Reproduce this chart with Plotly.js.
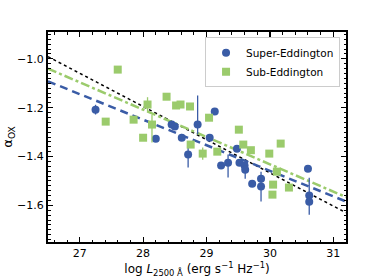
<!DOCTYPE html>
<html><head><meta charset="utf-8">
<script src="https://cdn.plot.ly/plotly-3.0.1.min.js"></script>
<style>html,body{margin:0;padding:0;background:#fff}#c{width:383px;height:278px}</style>
</head><body><div id="c"></div>
<script>
var superX = [27.25,28.20,28.45,28.50,28.61,28.71,28.86,29.13,29.05,29.23,29.34,29.48,29.52,29.60,29.61,29.72,29.86,29.86,30.60,30.62,30.62];
var superY = [-1.208,-1.327,-1.269,-1.277,-1.323,-1.392,-1.269,-1.216,-1.323,-1.437,-1.425,-1.368,-1.425,-1.437,-1.454,-1.511,-1.491,-1.523,-1.450,-1.560,-1.585];
var superErrUp = [0.02,0,0,0,0,0.053,0.119,0,0,0,0.033,0,0,0,0.02,0,0,0.061,0,0,0.098];
var superErrDn = [0.02,0,0,0,0,0.053,0.04,0,0,0,0.061,0,0,0,0.037,0,0,0.061,0,0,0.053];

var subX = [27.41,27.60,27.85,28.00,28.07,28.14,28.37,28.52,28.59,28.74,28.75,28.94,29.04,29.17,29.51,29.58,29.70,29.99,30.17,30.11,30.05,30.04,30.30];
var subY = [-1.257,-1.044,-1.249,-1.323,-1.187,-1.269,-1.155,-1.191,-1.187,-1.195,-1.351,-1.388,-1.241,-1.380,-1.290,-1.351,-1.374,-1.388,-1.347,-1.462,-1.515,-1.556,-1.527];
var subErrUp = [0,0,0,0,0.03,0.04,0,0,0,0,0,0.025,0,0,0,0,0,0,0,0,0,0,0];
var subErrDn = [0,0,0,0,0.03,0.074,0,0,0,0,0,0.025,0,0,0,0,0,0,0,0,0,0,0];

var fitX = [26.5, 31.2];
var allFitY = [-0.991, -1.630];
var subFitY = [-1.040, -1.566];
var superFitY = [-1.092, -1.584];

var blue = '#3a5ca6';
var green = '#9bcb6c';

var traces = [
  {x: fitX, y: allFitY, mode:'lines', line:{color:'black', width:1.5, dash:'dot'}, showlegend:false, hoverinfo:'skip'},
  {x: fitX, y: subFitY, mode:'lines', line:{color:green, width:2.5, dash:'dashdot'}, showlegend:false, hoverinfo:'skip'},
  {x: fitX, y: superFitY, mode:'lines', line:{color:blue, width:2.5, dash:'8px,5px'}, showlegend:false, hoverinfo:'skip'},
  {x: superX, y: superY, mode:'markers', name:'Super-Eddington', type:'scatter',
   marker:{color:blue, size:8, symbol:'circle'},
   error_y:{type:'data', symmetric:false, array:superErrUp, arrayminus:superErrDn, color:blue, thickness:1.3, width:0}},
  {x: subX, y: subY, mode:'markers', name:'Sub-Eddington', type:'scatter',
   marker:{color:green, size:8, symbol:'square'},
   error_y:{type:'data', symmetric:false, array:subErrUp, arrayminus:subErrDn, color:green, thickness:1.3, width:0}}
];

var axisCommon = {
  showgrid:false, zeroline:false, showline:true, linecolor:'black', linewidth:2,
  mirror:'ticks', ticks:'inside', ticklen:5, tickwidth:1.2, tickcolor:'black',
  tickfont:{family:'DejaVu Sans', size:11, color:'black'}
};

var layout = {
  width:383, height:278,
  margin:{l:48, r:37, t:32, b:36},
  paper_bgcolor:'white', plot_bgcolor:'white',
  font:{family:'DejaVu Sans', color:'black'},
  xaxis: Object.assign({}, axisCommon, {
    range:[26.5, 31.2], dtick:1, tick0:27,
    minor:{dtick:0.2, ticks:'inside', ticklen:2.5, tickcolor:'black', tickwidth:1},
    title:{text:'log <i>L</i><sub>2500 Å</sub> (erg s<sup>−1</sup> Hz<sup>−1</sup>)', font:{family:'DejaVu Sans', size:12}, standoff:4}
  }),
  yaxis: Object.assign({}, axisCommon, {
    range:[-1.75, -0.89], dtick:0.2, tick0:-1.0, tickformat:'.1f',
    minor:{dtick:0.02, ticks:'inside', ticklen:2.5, tickcolor:'black', tickwidth:1},
    title:{text:'α<sub>OX</sub>', font:{family:'DejaVu Sans', size:13}, standoff:6}
  }),
  legend:{x:0.98, xanchor:'right', y:0.975, yanchor:'top', bgcolor:'white',
    bordercolor:'#cccccc', borderwidth:1, font:{family:'DejaVu Sans', size:10.5},
    tracegroupgap:0, itemwidth:30},
  showlegend:true
};

Plotly.newPlot('c', traces, layout, {staticPlot:true, displayModeBar:false});
</script>
</body></html>
